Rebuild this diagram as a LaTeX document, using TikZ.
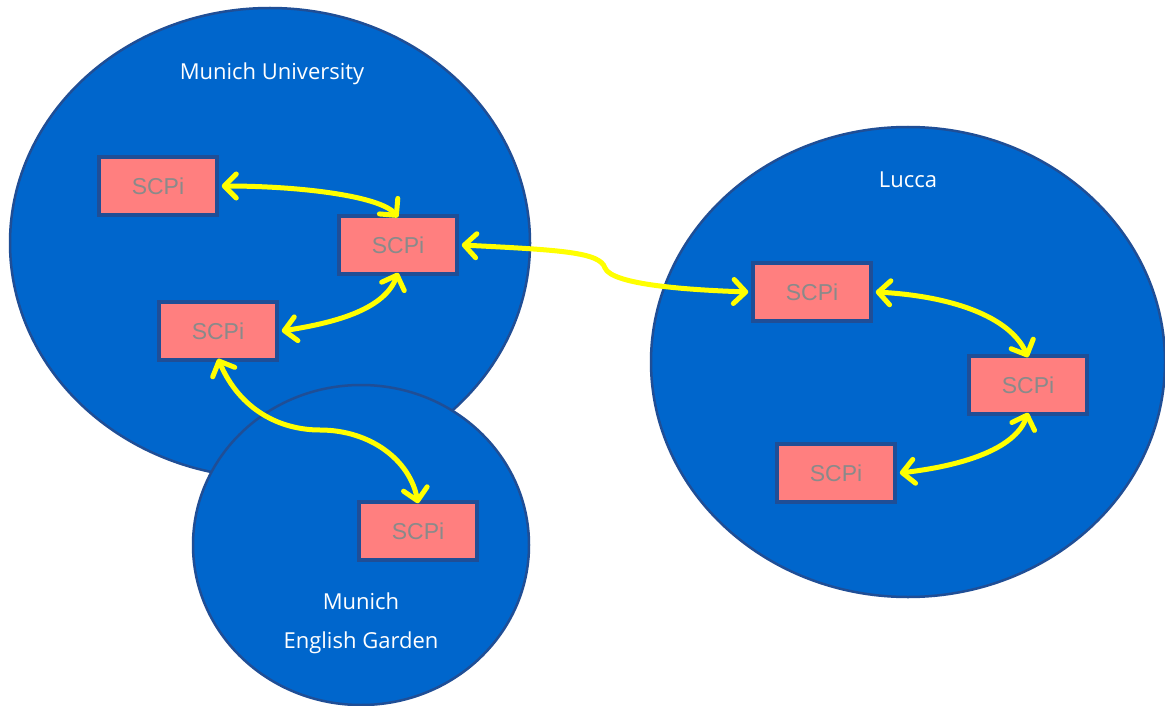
\documentclass[tikz,border=0pt]{standalone}
\usepackage{fontspec}
\setmainfont{Open Sans}
\newfontfamily\arialf{Liberation Sans}
\usetikzlibrary{arrows.meta}
\definecolor{zoneblue}{HTML}{0066CC}
\definecolor{zoneedge}{HTML}{1F4E96}
\definecolor{boxfill}{HTML}{FF7F7F}
\definecolor{boxtext}{HTML}{8A8A8A}
\definecolor{linkyellow}{HTML}{FFFF00}
\tikzset{
  zone/.style={fill=zoneblue,draw=zoneedge,line width=2.5pt},
  zonelabel/.style={text=white,font=\fontsize{22}{26}\selectfont,inner sep=0pt},
  scpi/.style={rectangle,fill=boxfill,draw=zoneedge,line width=3.5pt,minimum width=118pt,minimum height=58pt,inner sep=0pt,text=boxtext,font=\arialf\fontsize{23}{26}\selectfont},
  link/.style={draw=linkyellow,line width=5pt,line cap=round,{Straight Barb[length=12pt,width=24pt,line width=5pt,round]}-{Straight Barb[length=12pt,width=24pt,line width=5pt,round]}}
}
\begin{document}
\begin{tikzpicture}[x=1pt,y=-1pt]
\useasboundingbox (0,0) rectangle (1165,706);
\fill[white] (0,0) rectangle (1165,706);
% zones
\draw[zone] (270,243) ellipse [x radius=260pt, y radius=235pt];
\draw[zone] (908,362) ellipse [x radius=257pt, y radius=235pt];
\draw[zone] (361,545) ellipse [x radius=168pt, y radius=160pt];
\node[zonelabel] (lmu) at (272,74) {Munich University};
\node[zonelabel] (lucca) at (908,180) {Lucca};
\node[zonelabel] (eg1) at (361,601) {Munich};
\node[zonelabel] (eg2) at (361,643) {English Garden};
% boxes
\node[scpi] (A) at (158,186) {SCPi};
\node[scpi] (B) at (398,245) {SCPi};
\node[scpi] (C) at (218,331) {SCPi};
\node[scpi] (D) at (418,531) {SCPi};
\node[scpi] (E) at (812,292) {SCPi};
\node[scpi] (F) at (1028,385) {SCPi};
\node[scpi] (G) at (836,473) {SCPi};
% links
\draw[link] ([xshift=3pt]A.east) .. controls (300,186) and (380,196) .. ([yshift=-3pt]B.north);
\draw[link] ([xshift=3pt]B.east) .. controls (560,250) and (600,252) .. (605,268)
            .. controls (612,285) and (690,290) .. ([xshift=-3pt]E.west);
\draw[link] ([xshift=3pt]C.east) .. controls (340,322) and (385,308) .. ([yshift=3pt]B.south);
\draw[link] ([yshift=3pt]C.south) .. controls (240,410) and (280,430) .. (320,430)
            .. controls (370,430) and (410,460) .. ([yshift=-3pt]D.north);
\draw[link] ([xshift=3pt]E.east) .. controls (950,296) and (1010,316) .. ([yshift=-3pt]F.north);
\draw[link] ([xshift=3pt]G.east) .. controls (960,466) and (1015,450) .. ([yshift=3pt]F.south);
\end{tikzpicture}
\end{document}
